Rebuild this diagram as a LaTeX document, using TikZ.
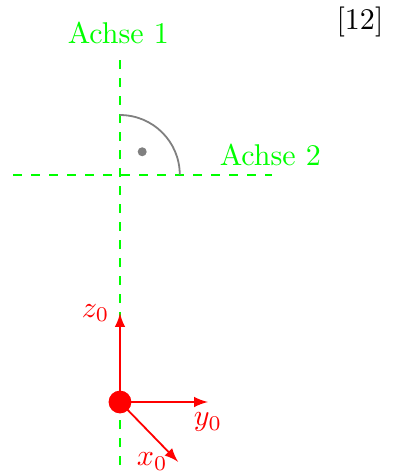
\documentclass[tikz,border=0pt]{standalone}
\usepackage{xcolor}
\usepackage{amsmath, amsfonts, amssymb}
\usepackage{tikz}

\begin{document}
\begin{tikzpicture}
    \useasboundingbox (-1.405, -0.843) rectangle (3.30, 4.707);
    % axes
    \coordinate (a1b) at (0, -0.74); \coordinate (a1t) at (0, 4.05);
    \coordinate (a2l) at (-1.25, 2.66); \coordinate (a2r) at (1.78, 2.66);
    \draw[green, semithick, dashed] (a1b) -- (a1t);
    \draw[green, semithick, dashed] (a2l) -- (a2r);
    \node[green] at (-0.02, 4.32) (achse1) {Achse 1};
    \node[green] at (1.76, 2.89) (achse2) {Achse 2};
    % right angle
    \draw[gray, semithick] (0, 3.36) arc (90:0:0.7);
    \fill[gray] (0.26, 2.93) circle (1.5pt);
    % frame 0
    \coordinate (o) at (0, 0);
    \coordinate (x0) at (0.68, -0.70);
    \coordinate (y0) at (1.03, 0);
    \coordinate (z0) at (0, 1.04);
    \draw[red, semithick, -latex] (o) -- (x0);
    \draw[red, semithick, -latex] (o) -- (y0);
    \draw[red, semithick, -latex] (o) -- (z0);
    \fill[red] (o) circle (3.8pt);
    \node[red, left] at (x0) (lx0) {$x_0$};
    \node[red, below] at (y0) (ly0) {$y_0$};
    \node[red, left] at (z0) (lz0) {$z_0$};
    % reference
    \node at (2.81, 4.45) (ref) {[12]};
\end{tikzpicture}
\end{document}
